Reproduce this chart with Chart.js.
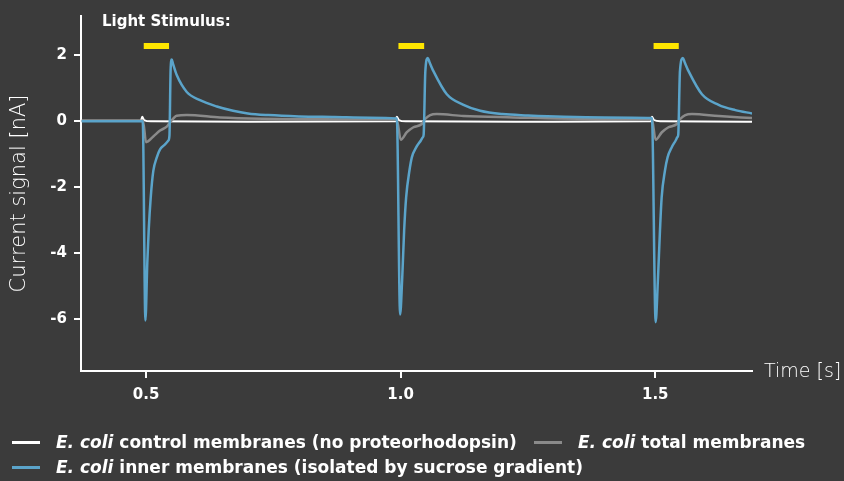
<!doctype html>
<html lang="en">
<head>
  <meta charset="UTF-8">
  <title>Light-induced currents</title>
  <script src="https://cdn.jsdelivr.net/npm/chart.js"></script>
  <style>
    html, body {
      margin: 0;
      padding: 0;
      background: #3b3b3b;
      overflow: hidden;
    }

    #wrap {
      position: relative;
      width: 844px;
      height: 481px;
    }

    #chart_01 {
      position: absolute;
      left: 0;
      top: 0;
    }

    .legend_item {
      position: absolute;
      height: 22px;
      line-height: 22px;
      font-family: "DejaVu Sans", sans-serif;
      font-weight: bold;
      font-size: 17px;
      color: #ffffff;
      white-space: nowrap;
    }

    .swatch {
      display: inline-block;
      width: 28px;
      height: 3px;
      vertical-align: middle;
      margin-right: 16px;
      position: relative;
      top: -1px;
    }
  </style>
</head>
<body>
  <div id="wrap">
    <canvas id="chart_01" width="844" height="481"></canvas>
    <div class="legend_item" style="left: 12px; top: 431px;"><span class="swatch" style="background: #ffffff;"></span><i>E. coli</i> control membranes (no proteorhodopsin)</div>
    <div class="legend_item" style="left: 534px; top: 431px;"><span class="swatch" style="background: #8a8a8a;"></span><i>E. coli</i> total membranes</div>
    <div class="legend_item" style="left: 12px; top: 456px;"><span class="swatch" style="background: #5ba4ca;"></span><i>E. coli</i> inner membranes (isolated by sucrose gradient)</div>
  </div>
  <script type="application/javascript">
    // inner membranes (blue)
    const innerTime = [
      0.3735, 0.43, 0.4935, 0.4988, 0.5025, 0.5053, 0.5092, 0.5143, 0.521, 0.5275, 0.5373, 0.5438, 0.546, 0.5483, 0.5505, 0.553, 0.5603, 0.58, 0.606, 0.639, 0.671, 0.70, 0.74, 0.80, 0.87, 0.94, 0.9925,
      0.999, 1.003, 1.0069, 1.0108, 1.0173, 1.022, 1.0305, 1.0397, 1.0436, 1.0452, 1.0485, 1.0534, 1.057, 1.0644, 1.0907, 1.1234, 1.1562, 1.2, 1.25, 1.32, 1.40, 1.4935,
      1.5008, 1.505, 1.5093, 1.5126, 1.5191, 1.5242, 1.5322, 1.5401, 1.5435, 1.5452, 1.5485, 1.5544, 1.558, 1.5654, 1.5917, 1.6244, 1.6572, 1.69
    ]
    const innerCurrent = [
      -0.02, -0.02, -0.02, -6.05, -4.3, -3.3, -2.33, -1.52, -1.12, -0.87, -0.72, -0.6, -0.45, 1.55, 1.85, 1.72, 1.38, 0.87, 0.62, 0.43, 0.3, 0.22, 0.17, 0.13, 0.11, 0.09, 0.07,
      -5.87, -4.8, -3.32, -2.32, -1.51, -1.11, -0.81, -0.6, -0.5, -0.42, 1.5, 1.9, 1.76, 1.5, 0.8, 0.48, 0.3, 0.2, 0.16, 0.12, 0.1, 0.08,
      -6.1, -4.9, -3.32, -2.32, -1.51, -1.11, -0.81, -0.6, -0.5, -0.42, 1.5, 1.9, 1.76, 1.5, 0.8, 0.48, 0.32, 0.22
    ]

    // total membranes (grey)
    const totalTime = [
      0.3735, 0.45, 0.4941, 0.5, 0.5143, 0.5275, 0.5407, 0.5472, 0.5603, 0.58, 0.6454, 0.73, 0.85, 0.9925,
      1.0003, 1.0122, 1.0251, 1.0416, 1.0481, 1.058, 1.0711, 1.1234, 1.221, 1.35, 1.4935,
      1.5008, 1.513, 1.526, 1.5425, 1.549, 1.559, 1.572, 1.625, 1.69
    ]
    const totalCurrent = [
      0.0, 0.0, 0.0, -0.65, -0.48, -0.3, -0.18, -0.05, 0.15, 0.17, 0.1, 0.06, 0.04, 0.03,
      -0.58, -0.35, -0.2, -0.1, 0.05, 0.17, 0.2, 0.14, 0.1, 0.06, 0.04,
      -0.58, -0.35, -0.2, -0.1, 0.05, 0.17, 0.2, 0.14, 0.08
    ]

    // control membranes (white)
    const controlTime = [
      0.3735, 0.49, 0.4925, 0.496, 0.51, 0.70, 0.99,
      0.9925, 0.9965, 1.01, 1.30, 1.491,
      1.4935, 1.4975, 1.51, 1.69
    ]
    const controlCurrent = [
      0.0, 0.0, 0.12, 0.02, -0.02, -0.03, -0.02,
      0.12, 0.02, -0.02, -0.03, -0.02,
      0.12, 0.02, -0.02, -0.03
    ]

    // light pulses
    const lightOn = [0.4955, 0.9957, 1.4967]
    const lightOff = [0.5452, 1.0462, 1.5462]
    const lightMarkLevel = 2.26

    const xTicks = [0.5, 1.0, 1.5]
    const yTicks = [2, 0, -2, -4, -6]

    const font_family = '"DejaVu Sans", sans-serif'

    const to_points = (xs, ys) => xs.map((x, i) => ({x, y: ys[i]}))

    const light_points = []
    lightOn.forEach((t, i) => {
      light_points.push({x: t, y: lightMarkLevel})
      light_points.push({x: lightOff[i], y: lightMarkLevel})
      light_points.push({x: (lightOff[i] + (lightOn[i + 1] || lightOff[i] + 0.1)) / 2, y: null})
    })

    const line_ds = (data, color, width) => ({
      data,
      borderColor: color,
      borderWidth: width,
      pointRadius: 0,
      fill: false,
      cubicInterpolationMode: 'monotone'
    })

    const extra_text = {
      id: 'extra_text',
      afterDraw(chart) {
        const {ctx, chartArea, scales} = chart
        ctx.save()
        ctx.fillStyle = '#ffffff'
        ctx.textBaseline = 'middle'
        ctx.textAlign = 'left'
        ctx.font = `bold 15px ${font_family}`
        ctx.fillText('Light Stimulus:', 102, 22)
        ctx.font = `200 19px ${font_family}`
        ctx.fillText('Time [s]', chartArea.right + 12, scales.x.top + 1)
        ctx.restore()
      }
    }

    const config = {
      type: 'line',
      data: {
        datasets: [
          {
            data: light_points,
            borderColor: '#ffe600',
            borderWidth: 6,
            borderCapStyle: 'butt',
            pointRadius: 0,
            spanGaps: false
          },
          line_ds(to_points(innerTime, innerCurrent), '#5ba4ca', 2.5),
          line_ds(to_points(totalTime, totalCurrent), '#8a8a8a', 2.5),
          line_ds(to_points(controlTime, controlCurrent), '#ffffff', 2)
        ]
      },
      options: {
        responsive: false,
        devicePixelRatio: 1,
        animation: false,
        layout: {
          padding: {left: 0, top: 15, right: 92, bottom: 75}
        },
        plugins: {
          legend: {display: false},
          tooltip: {enabled: false}
        },
        scales: {
          x: {
            type: 'linear',
            min: 0.3723,
            max: 1.69,
            afterBuildTicks: scale => {
              scale.ticks = xTicks.map(value => ({value}))
            },
            afterFit: scale => {
              scale.height = 35
            },
            ticks: {
              color: '#ffffff',
              padding: 8,
              maxRotation: 0,
              font: {family: font_family, size: 15, weight: 'bold'},
              callback: v => v.toFixed(1)
            },
            grid: {
              display: true,
              drawOnChartArea: false,
              drawTicks: true,
              tickLength: 7,
              color: '#ffffff',
              lineWidth: 2
            },
            border: {display: true, color: '#ffffff', width: 2}
          },
          y: {
            min: -7.58,
            max: 3.17,
            afterBuildTicks: scale => {
              scale.ticks = yTicks.map(value => ({value}))
            },
            afterFit: scale => {
              scale.width = 81
            },
            title: {
              display: true,
              text: 'Current signal [nA]',
              color: '#ffffff',
              padding: {top: 7, bottom: 0},
              font: {family: font_family, size: 21, weight: 200}
            },
            ticks: {
              color: '#ffffff',
              padding: 7,
              font: {family: font_family, size: 15, weight: 'bold'},
              callback: v => String(v)
            },
            grid: {
              display: true,
              drawOnChartArea: false,
              drawTicks: true,
              tickLength: 7,
              color: '#ffffff',
              lineWidth: 2
            },
            border: {display: true, color: '#ffffff', width: 2}
          }
        }
      },
      plugins: [extra_text]
    }

    const myChart = new Chart(
      document.getElementById('chart_01'),
      config
    )
  </script>
</body>
</html>
